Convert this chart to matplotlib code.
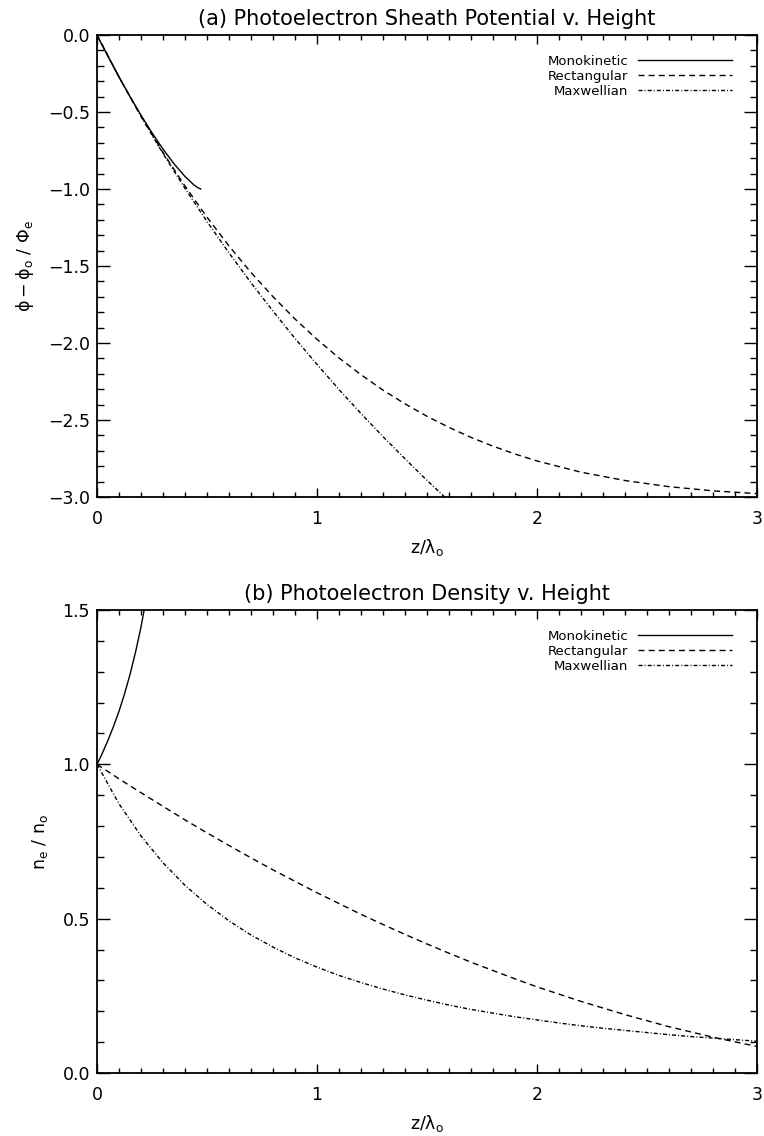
import matplotlib
matplotlib.use("Agg")
import matplotlib.pyplot as plt
from matplotlib.ticker import MultipleLocator

plt.rcParams['font.family'] = ['DejaVu Sans']
plt.rcParams['mathtext.fontset'] = 'dejavusans'
plt.rcParams['mathtext.default'] = 'regular'
plt.rcParams['lines.scale_dashes'] = False

# ---------------- data ----------------
# Panel (a): potential (phi - phi_o)/Phi_e vs z/lambda_o
mono_z_a = [0.0, 0.02, 0.05, 0.10, 0.15, 0.20, 0.25, 0.30, 0.35, 0.40, 0.44, 0.46, 0.4714]
mono_phi = [0.0, -0.056, -0.139, -0.272, -0.400, -0.521, -0.635, -0.741, -0.836, -0.919, -0.973, -0.993, -1.0]

rect_z_a = [0.0, 0.1, 0.2, 0.3, 0.4, 0.5, 0.6, 0.7, 0.8, 0.9, 1.0, 1.1, 1.2, 1.3, 1.4, 1.5,
            1.6, 1.7, 1.8, 1.9, 2.0, 2.2, 2.4, 2.6, 2.8, 3.0]
rect_phi = [0.0, -0.273, -0.527, -0.763, -0.981, -1.183, -1.370, -1.542, -1.699, -1.844,
            -1.976, -2.097, -2.206, -2.306, -2.395, -2.476, -2.548, -2.613, -2.670, -2.721,
            -2.766, -2.839, -2.893, -2.933, -2.960, -2.978]

maxw_z_a = [0.0, 0.1, 0.2, 0.3, 0.4, 0.5, 0.6, 0.7, 0.8, 0.9, 1.0, 1.1, 1.2, 1.3, 1.4, 1.5, 1.6]
maxw_phi = [0.0, -0.273, -0.529, -0.770, -0.996, -1.211, -1.415, -1.609, -1.793, -1.970,
            -2.139, -2.302, -2.458, -2.608, -2.752, -2.892, -3.027]

# Panel (b): density n_e/n_o vs z/lambda_o
mono_z_b = [0.0, 0.02, 0.05, 0.075, 0.10, 0.125, 0.15, 0.175, 0.20, 0.22]
mono_n = [1.0, 1.029, 1.078, 1.123, 1.172, 1.228, 1.291, 1.363, 1.445, 1.521]

rect_z_b = rect_z_a
rect_n = [1.0, 0.953, 0.908, 0.864, 0.820, 0.778, 0.737, 0.697, 0.658, 0.621, 0.584,
          0.549, 0.514, 0.481, 0.449, 0.418, 0.388, 0.359, 0.332, 0.305, 0.279, 0.232,
          0.189, 0.150, 0.116, 0.086]

maxw_z_b = [0.0, 0.1, 0.2, 0.3, 0.4, 0.5, 0.6, 0.7, 0.8, 0.9, 1.0, 1.1, 1.2, 1.3, 1.4, 1.5,
            1.6, 1.7, 1.8, 1.9, 2.0, 2.1, 2.2, 2.3, 2.4, 2.5, 2.6, 2.7, 2.8, 2.9, 3.0]
maxw_n = [1.0, 0.872, 0.768, 0.681, 0.608, 0.546, 0.493, 0.447, 0.408, 0.373, 0.343,
          0.316, 0.293, 0.272, 0.253, 0.236, 0.220, 0.206, 0.194, 0.182, 0.172, 0.162,
          0.153, 0.145, 0.138, 0.131, 0.124, 0.118, 0.113, 0.108, 0.103]

series_labels = ["Monokinetic", "Rectangular", "Maxwellian"]
titles = ["(a) Photoelectron Sheath Potential v. Height",
          "(b) Photoelectron Density v. Height"]
xlabel = r"z/$\lambda_{\rm o}$"
ylabels = [r"$\phi-\phi_{\rm o}$ / $\Phi_{\rm e}$", r"n$_{\rm e}$ / n$_{\rm o}$"]

# ---------------- style ----------------
dash = (0, (4.3, 3.0))
dashdot = (0, (2.9, 1.5, 0.7, 1.5))
lw = 1.0

fig = plt.figure(figsize=(7.64, 11.36), dpi=100)
W, H = 764.0, 1136.0
axA = fig.add_axes([97 / W, (H - 497) / H, 660 / W, 462 / H])
axB = fig.add_axes([97 / W, (H - 1073) / H, 660 / W, 463 / H])


def style(ax, ymin, ymax, title, ylabel):
    ax.set_xlim(0, 3)
    ax.set_ylim(ymin, ymax)
    ax.xaxis.set_major_locator(MultipleLocator(1))
    ax.xaxis.set_minor_locator(MultipleLocator(0.1))
    ax.yaxis.set_major_locator(MultipleLocator(0.5))
    ax.yaxis.set_minor_locator(MultipleLocator(0.1))
    ax.tick_params(axis='both', which='both', direction='in', top=True, right=True,
                   colors='black', width=1.0, labelsize=12.5)
    ax.tick_params(axis='x', which='major', length=6.6, pad=9)
    ax.tick_params(axis='x', which='minor', length=3.3)
    ax.tick_params(axis='y', which='major', length=9.5, pad=5)
    ax.tick_params(axis='y', which='minor', length=4.8)
    for s in ax.spines.values():
        s.set_linewidth(1.3)
    ax.set_title(title, fontsize=15, pad=7)
    ax.set_xlabel(xlabel, fontsize=12.5, labelpad=7)
    ax.set_ylabel(ylabel, fontsize=12.5, labelpad=9)
    ax.set_yticklabels([f"{v:.1f}".replace('-', '\u2212') for v in ax.get_yticks()])
    ax.set_xticks([0, 1, 2, 3])
    ax.set_xticklabels(["0", "1", "2", "3"])
    ax.set_xlim(0, 3)
    ax.set_ylim(ymin, ymax)


axA.plot(mono_z_a, mono_phi, color='black', lw=lw, label=series_labels[0])
axA.plot(rect_z_a, rect_phi, color='black', lw=lw, linestyle=dash, label=series_labels[1])
axA.plot(maxw_z_a, maxw_phi, color='black', lw=lw, linestyle=dashdot, label=series_labels[2])
style(axA, -3.0, 0.0, titles[0], ylabels[0])

axB.plot(mono_z_b, mono_n, color='black', lw=lw, label=series_labels[0])
axB.plot(rect_z_b, rect_n, color='black', lw=lw, linestyle=dash, label=series_labels[1])
axB.plot(maxw_z_b, maxw_n, color='black', lw=lw, linestyle=dashdot, label=series_labels[2])
style(axB, 0.0, 1.5, titles[1], ylabels[1])

for ax in (axA, axB):
    ax.legend(loc='upper right', bbox_to_anchor=(0.962, 0.957), frameon=False,
              markerfirst=False, fontsize=9.5, handlelength=7.1, handletextpad=0.75,
              labelspacing=0.15, borderpad=0, borderaxespad=0)

fig.savefig("out.png", dpi=100)
